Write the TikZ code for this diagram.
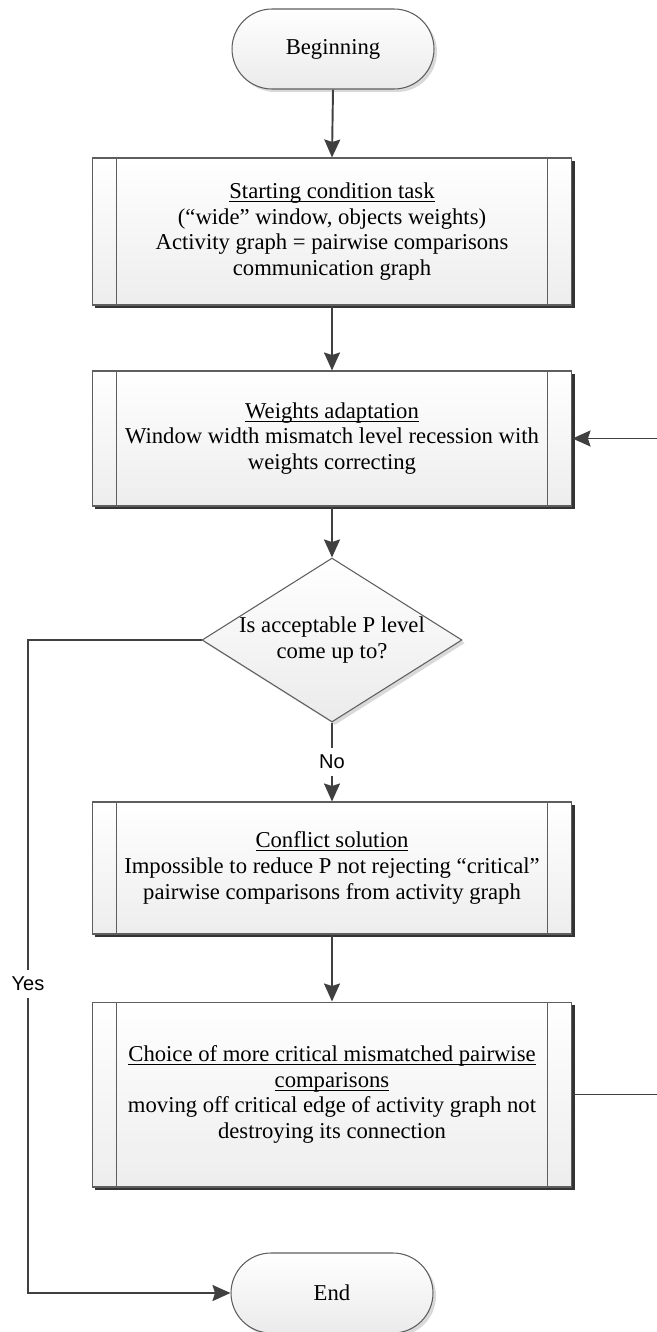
\documentclass[tikz,border=0pt]{standalone}
\usepackage{fontspec}
\setmainfont{Liberation Serif}
\newfontfamily\labelfont{Liberation Sans}
\usetikzlibrary{shapes.geometric,shadows,arrows.meta}
\definecolor{linegray}{HTML}{404040}
\definecolor{edgegray}{HTML}{5E5E5E}
\newcommand\boxtitle[1]{\setbox0=\hbox{#1}\rlap{\rule[-2pt]{\wd0}{0.6pt}}\box0}

\begin{document}
\begin{tikzpicture}[x=0.02cm,y=-0.02cm]
\fontsize{12.9pt}{14.6pt}\selectfont
\tikzstyle{arrow}=[-{Stealth[length=0.36cm,width=0.32cm,inset=0.05cm]},line width=1.1pt,draw=linegray]
\tikzstyle{terminal}=[draw=edgegray,line width=0.6pt,rounded corners=0.8cm,minimum width=4.04cm,minimum height=1.6cm,top color=white,bottom color=black!8,drop shadow={shadow xshift=0.06cm,shadow yshift=-0.06cm,fill=black!15,opacity=1}]
\tikzstyle{process}=[draw=edgegray,line width=0.6pt,minimum width=9.6cm,align=center,top color=white,bottom color=black!7,drop shadow={shadow xshift=0.06cm,shadow yshift=-0.06cm,fill=black!80,opacity=1}]
\tikzstyle{decision}=[diamond,aspect=1.585,inner sep=0pt,minimum width=5.2cm,minimum height=3.28cm,align=center,draw=edgegray,line width=0.6pt,top color=white,bottom color=black!8,drop shadow={shadow xshift=0.06cm,shadow yshift=-0.06cm,fill=black!15,opacity=1}]
\tikzstyle{flowlabel}=[fill=white,inner xsep=1pt,inner ysep=4pt,font=\labelfont\fontsize{11.4pt}{12pt}\selectfont]
\tikzstyle{sideline}=[draw=edgegray,line width=0.6pt]
	\useasboundingbox (0,0) rectangle (656,1332);

	\node[terminal] (begin) at (333,49) {Beginning};
	\node[process,minimum height=2.94cm] (b1) at (332,231.5)
		{\boxtitle{Starting condition task}\\(“wide” window, objects weights)\\Activity graph = pairwise comparisons\\communication graph};
	\node[process,minimum height=2.7cm] (b2) at (332,438.5)
		{\boxtitle{Weights adaptation}\\Window width mismatch level recession with\\weights correcting};
	\node[decision] (dec) at (332,640) {Is acceptable P level\\come up to?};
	\node[process,minimum height=2.64cm] (b3) at (332,868)
		{\boxtitle{Conflict solution}\\Impossible to reduce P not rejecting “critical”\\pairwise comparisons from activity graph};
	\node[process,minimum height=3.7cm] (b4) at (332,1094.5)
		{\boxtitle{Choice of more critical mismatched pairwise}\\\boxtitle{comparisons}\\moving off critical edge of activity graph not\\destroying its connection};
	\node[terminal] (end) at (332,1293) {End};

	% side bars of the process boxes
	\draw[sideline] ([xshift=0.5cm]b1.north west) -- ([xshift=0.5cm]b1.south west);
	\draw[sideline] ([xshift=-0.5cm]b1.north east) -- ([xshift=-0.5cm]b1.south east);
	\draw[sideline] ([xshift=0.5cm]b2.north west) -- ([xshift=0.5cm]b2.south west);
	\draw[sideline] ([xshift=-0.5cm]b2.north east) -- ([xshift=-0.5cm]b2.south east);
	\draw[sideline] ([xshift=0.5cm]b3.north west) -- ([xshift=0.5cm]b3.south west);
	\draw[sideline] ([xshift=-0.5cm]b3.north east) -- ([xshift=-0.5cm]b3.south east);
	\draw[sideline] ([xshift=0.5cm]b4.north west) -- ([xshift=0.5cm]b4.south west);
	\draw[sideline] ([xshift=-0.5cm]b4.north east) -- ([xshift=-0.5cm]b4.south east);

	\coordinate (leftrail) at (28,0);
	\coordinate (rightrail) at (664,0);

	\draw[arrow] (begin.south) -- (b1.north);
	\draw[arrow] (b1.south) -- (b2.north);
	\draw[arrow] (b2.south) -- (dec.north);
	\draw[arrow] (dec.south) -- node[flowlabel] {No} (b3.north);
	\draw[arrow] (b3.south) -- (b4.north);
	\draw[arrow] (dec.west) -- (dec.west -| leftrail) -- node[flowlabel,pos=0.527] {Yes} (end.west -| leftrail) -- (end.west);
	\draw[arrow] (b4.east) -- (b4.east -| rightrail) -- (b2.east -| rightrail) -- (b2.east);
\end{tikzpicture}
\end{document}
